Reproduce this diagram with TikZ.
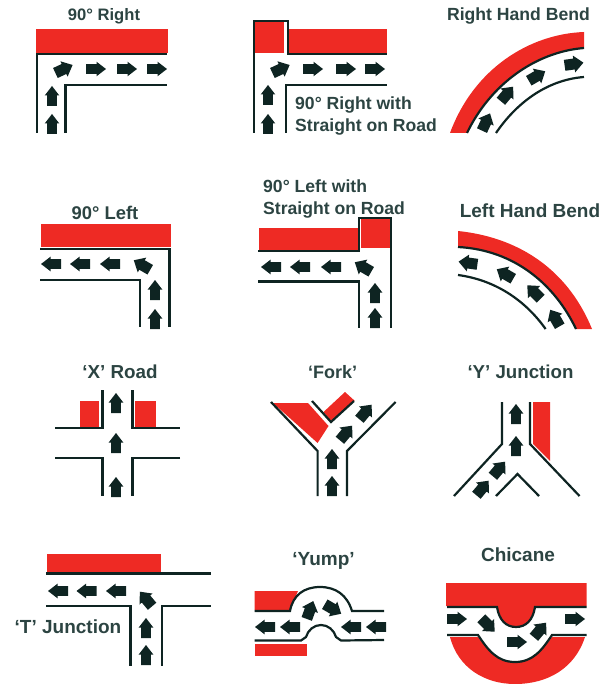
\documentclass[tikz,border=0pt]{standalone}
\usepackage{fontspec}
\setmainfont{Liberation Sans}
\definecolor{rd}{HTML}{EE2A24}
\definecolor{ink}{HTML}{0E2422}
\definecolor{txt}{HTML}{2C4442}
\newcommand{\arr}[3]{\fill[ink,shift={(#1,#2)},rotate=#3] (-10pt,-4.8pt) -- (0.5pt,-4.8pt) -- (0.5pt,-7.3pt) -- (10pt,0pt) -- (0.5pt,7.3pt) -- (0.5pt,4.8pt) -- (-10pt,4.8pt) -- cycle;}
\newcommand{\blob}[3]{\fill[ink,shift={(#1,#2)},rotate=#3] (-9.5pt,-5.5pt) -- (0pt,-5.5pt) -- (0pt,-8.5pt) -- (9.5pt,0pt) -- (0pt,8.5pt) -- (0pt,5.5pt) -- (-9.5pt,5.5pt) -- cycle;}
\newcommand{\fs}[1]{\fontsize{#1}{22}\selectfont\bfseries}
\tikzset{
  rdl/.style={draw=ink,line width=2.2pt,line cap=butt,line join=miter},
  lbl/.style={text=txt,inner sep=0pt},
  red/.style={fill=rd,draw=none}
}
\begin{document}
\begin{tikzpicture}[x=1pt,y=-1pt]
\useasboundingbox (0,0) rectangle (611,684);
% 90 Right
\node[lbl,font=\fs{16.6}] (t1) at (104,16) {90° Right};
\fill[red] (36,29) rectangle (167.5,53);
\draw[rdl] (37,133) -- (37,54) -- (167,54);
\draw[rdl] (65.5,133) -- (65.5,85) -- (167,85);
\blob{64}{69}{25}\arr{96}{69}{0}\arr{127}{69}{0}\arr{157}{69}{0}
\arr{52}{96}{90}\arr{52}{124}{90}
% 90 Right straight
\fill[red] (254,21) rectangle (284,53);
\fill[red] (288,29) rectangle (387,53);
\draw[rdl] (254,133) -- (254,21) -- (288,21) -- (288,54) -- (387,54);
\draw[rdl] (286,133) -- (286,85) -- (387,85);
\blob{281}{69}{25}\arr{313}{69}{0}\arr{346}{69}{0}\arr{375}{69}{0}
\arr{268}{95}{90}\arr{268}{124}{90}
\node[lbl,font=\fs{17.6},align=left,anchor=west] (t2) at (295,116) {90° Right with\\Straight on Road};
% Right bend
\node[lbl,font=\fs{17.6}] (t3) at (518.5,16) {Right Hand Bend};
\fill[red] (450,133) .. controls (474,68) and (530,34) .. (584,32) -- (584,48) .. controls (535,52) and (490,85) .. (467,133) -- cycle;
\draw[rdl] (467,133) .. controls (490,85) and (535,52) .. (584,48);
\draw[rdl] (496,133) .. controls (515,105) and (545,80) .. (584,77);
\blob{486}{122}{65}\blob{507}{94}{50}\blob{537}{76}{30}\blob{574}{64}{8}
% 90 Left
\node[lbl,font=\fs{18.4}] (t4) at (105,213) {90° Left};
\fill[red] (40.5,224) rectangle (170.7,247);
\draw[rdl] (40,249) -- (169.5,249) -- (169.5,327);
\draw[rdl] (40,280) -- (140,280) -- (140,327);
\arr{51}{264}{180}\arr{80}{264}{180}\arr{110}{264}{180}\blob{142}{265}{150}
\arr{155}{290}{90}\arr{155}{319}{90}
% 90 Left straight
\node[lbl,font=\fs{17.6},align=left,anchor=west] (t5) at (263,199) {90° Left with\\Straight on Road};
\fill[red] (259,228) rectangle (358,250);
\fill[red] (360.5,218) rectangle (391,248);
\draw[rdl] (258,251) -- (359,251) -- (359,218) -- (391,218) -- (391,328);
\draw[rdl] (258,281.5) -- (359,281.5) -- (359,328);
\arr{271}{267}{180}\arr{300}{267}{180}\arr{331}{267}{180}\blob{363}{267}{150}
\arr{375}{293}{90}\arr{375}{318}{90}
% Left bend
\node[lbl,font=\fs{19}] (t6) at (530,211) {Left Hand Bend};
\fill[red] (458,231) .. controls (525,238) and (570,275) .. (592,329) -- (576,329) .. controls (555,285) and (515,250) .. (458,247) -- cycle;
\draw[rdl] (458,247) .. controls (515,250) and (555,285) .. (576,329);
\draw[rdl] (458,275) .. controls (495,280) and (525,300) .. (545.6,329);
\blob{468}{263}{172}\blob{505}{274}{150}\blob{534}{292}{135}\blob{555}{318}{120}
% X road
\node[lbl,font=\fs{18.8}] (t7) at (120,372) {‘X’ Road};
\fill[red] (80,401) rectangle (99.4,427);
\fill[red] (134.5,401) rectangle (156,427);
\draw[rdl] (102.5,390) -- (102.5,428) -- (55,428);
\draw[rdl] (132.5,390) -- (132.5,428) -- (180,428);
\draw[rdl] (55,458) -- (102.5,458) -- (102.5,496);
\draw[rdl] (180,458) -- (132.5,458) -- (132.5,496);
\arr{116}{403}{90}\arr{116}{443}{90}\arr{116}{487}{90}
% Fork
\node[lbl,font=\fs{18}] (t8) at (332.5,372) {‘Fork’};
\fill[red] (273,403) -- (308,403) -- (328.5,426) -- (317.6,443) -- cycle;
\fill[red] (345,392) -- (354.6,400.7) -- (331,421) -- (323.5,412) -- cycle;
\draw[rdl] (271,402) -- (317.6,451) -- (317.6,496);
\draw[rdl] (395.6,402) -- (347,451) -- (347,496);
\draw[rdl] (312,401) -- (331,422) -- (354,401);
\arr{332}{459}{90}\arr{332}{486}{90}\blob{346}{433}{50}\blob{365.5}{412}{50}
% Y
\node[lbl,font=\fs{18.7}] (t9) at (520.5,372) {‘Y’ Junction};
\fill[red] (533,402) -- (550,402) -- (550,461) -- (533,444) -- cycle;
\draw[rdl] (502,402) -- (502,444) -- (454,496);
\draw[rdl] (530,402) -- (530,444) -- (579.5,496);
\draw[rdl] (496,496) -- (517.5,474) -- (539,496);
\arr{516}{414}{90}\arr{516}{446}{90}\blob{499}{469}{50}\blob{482.5}{488}{50}
% T
\node[lbl,font=\fs{19}] (t10) at (68,627) {‘T’ Junction};
\fill[red] (47,554) rectangle (160.5,573);
\draw[rdl] (46,573.5) -- (210.5,573.5);
\draw[rdl] (46,606) -- (130.5,606) -- (130.5,666);
\draw[rdl] (210.5,606) -- (162,606) -- (162,666);
\arr{58}{591}{180}\arr{86.5}{591}{180}\arr{116}{591}{180}\blob{146}{599}{130}
\arr{146}{628}{90}\arr{146}{655}{90}
% Yump
\node[lbl,font=\fs{19}] (t11) at (323.5,561) {‘Yump’};
\fill[red] (254.5,591) -- (298,591) -- (290,610) -- (254.5,610) -- cycle;
\fill[red] (254.5,644) rectangle (306.7,656);
\draw[rdl] (254.5,611) -- (290,611) .. controls (293,595) and (304,587) .. (320,587) .. controls (336,587) and (347,595) .. (352,611) -- (384,611);
\draw[rdl] (254.5,640.5) -- (301,640.5) -- (306,637) .. controls (308,630) and (314,625) .. (321,625) .. controls (328,625) and (334,630) .. (336,637) -- (341,640.5) -- (384,640);
\arr{265}{627}{180}\arr{290}{627}{180}\arr{351}{627}{180}\arr{376}{627}{180}
\blob{310}{610}{70}\blob{333}{609}{-30}
% Chicane
\node[lbl,font=\fs{19}] (t12) at (518,555) {Chicane};
\fill[red] (446,583) -- (586.5,583) -- (586.5,606) -- (535,606) .. controls (533,620) and (526,627) .. (516,627) .. controls (506,627) and (499,620) .. (497,606) -- (446,606) -- cycle;
\fill[red] (450,637) -- (478,637) .. controls (488,650) and (497,662) .. (515,662) .. controls (533,662) and (542,650) .. (552,637) -- (585,637) .. controls (575,668) and (548,684) .. (515,684) .. controls (485,684) and (458,668) .. (450,637) -- cycle;
\draw[rdl] (447,607) -- (497,607) .. controls (499,620) and (506,627) .. (516,627) .. controls (526,627) and (533,620) .. (535,607) -- (586.5,607);
\draw[rdl] (447,635) -- (478,635) .. controls (488,650) and (497,662) .. (515,662) .. controls (533,662) and (542,650) .. (552,635) -- (586.5,635);
\arr{457}{619}{0}\blob{488}{625}{-45}\arr{517}{642}{0}\blob{540}{630}{50}\arr{575}{619}{0}
\end{tikzpicture}
\end{document}
